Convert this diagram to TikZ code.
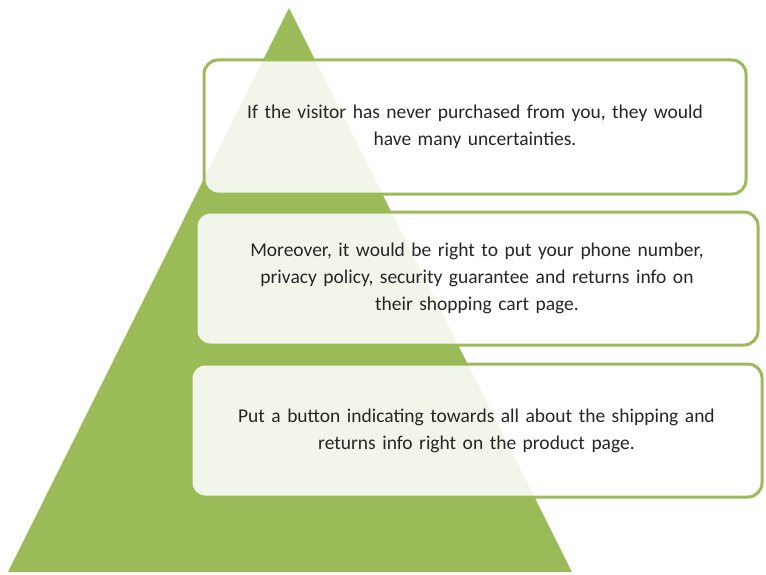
\documentclass[tikz,border=0pt]{standalone}
\usepackage{fontspec}
\setmainfont{Carlito}
\definecolor{grn}{HTML}{9BBB59}
\begin{document}
\begin{tikzpicture}[x=1pt,y=-1pt,
  card/.style={draw=grn,line width=3pt,rounded corners=14pt,fill=white,fill opacity=0.88,text opacity=1,
    text=black!85,align=center,font=\fontsize{19.5}{27}\selectfont}]
\useasboundingbox (0,0) rectangle (766,575);
\fill[grn] (289,8) -- (572,572) -- (8,572) -- cycle;
\node[card,minimum width=542pt,minimum height=134pt,text width=530pt] (b1) at (475,127) {If the visitor has never purchased from you, they would\\have many uncertainties.};
\node[card,minimum width=562pt,minimum height=133pt,text width=550pt] (b2) at (477,278.5) {Moreover, it would be right to put your phone number,\\privacy policy, security guarantee and returns info on\\their shopping cart page.};
\node[card,minimum width=571pt,minimum height=133pt,text width=560pt] (b3) at (476.5,430.5) {Put a button indicating towards all about the shipping and\\returns info right on the product page.};
\end{tikzpicture}
\end{document}
